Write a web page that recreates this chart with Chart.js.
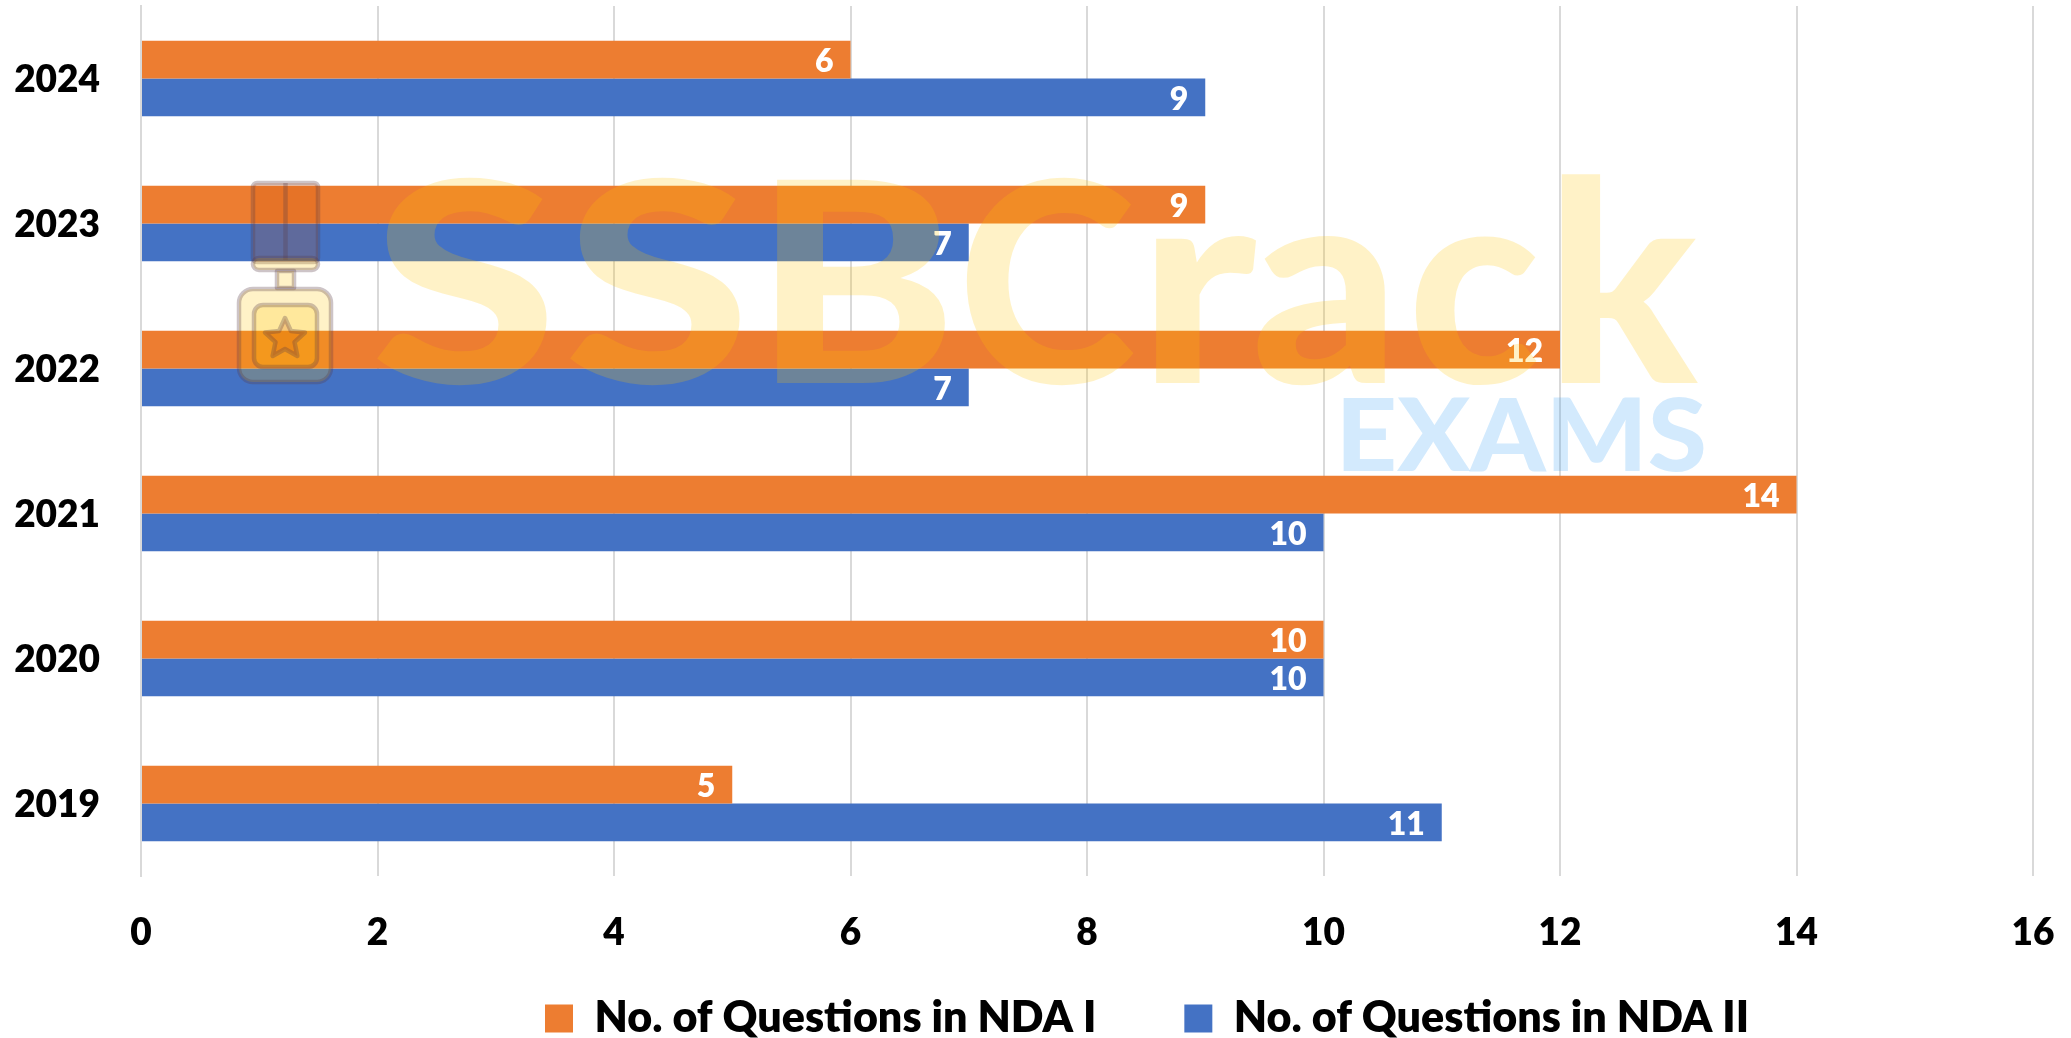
<!DOCTYPE html>
<html><head><meta charset="utf-8">
<style>html,body{margin:0;padding:0;background:#fff}#w{position:relative;width:2071px;height:1038px}canvas{display:block}</style>
<script src="https://cdn.jsdelivr.net/npm/chart.js@4"></script></head>
<body><div id="w"><canvas id="c" width="2071" height="1038"></canvas></div>
<script>
const categories=['2024','2023','2022','2021','2020','2019'];
const ndaOne=[6,9,12,14,10,5];
const ndaTwo=[9,7,7,10,10,11];
const seriesNames=['No. of Questions in NDA I','No. of Questions in NDA II'];
const FONT='Lato';
const valueLabels={id:'valueLabels',afterDatasetsDraw(ch){const x=ch.ctx;x.save();x.fillStyle='#fff';x.font='800 32px "'+FONT+'"';x.textAlign='right';x.textBaseline='middle';
 ch.data.datasets.forEach((d,i)=>ch.getDatasetMeta(i).data.forEach((b,j)=>x.fillText(d.data[j],b.x-17,b.y+2)));x.restore();}};
function rr(x,l,t,r,b,c){x.beginPath();x.roundRect(l,t,r-l,b-t,c);}
const wordLetters=[['S',376,551],['S',569,744],['B',773,945],['C',966,1135],['r',1153,1256],['a',1256,1387],['c',1412,1540],['k',1559,1702]];
const watermark={id:'watermark',afterDraw(ch){const x=ch.ctx;x.save();x.textBaseline='alphabetic';x.textAlign='left';
 function fit(t,l,r,base){const m=x.measureText(t);const s=(r-l)/(m.actualBoundingBoxRight+m.actualBoundingBoxLeft);x.save();x.translate(l,base);x.scale(s,1);x.fillText(t,m.actualBoundingBoxLeft,0);x.restore();}
 x.fillStyle='rgba(255,196,0,0.22)';x.font='900 280px "Lato"';wordLetters.forEach(w=>fit(w[0],w[1],w[2],383));
 x.fillStyle='rgba(33,150,243,0.2)';x.font='900 101px "Lato"';fit('EXAMS',1343,1704,471);
 const st='rgba(90,60,70,0.3)';x.strokeStyle=st;x.lineWidth=4.5;x.lineJoin='round';
 x.fillStyle='rgba(203,74,0,0.2)';rr(x,253,183,318,262,4);x.fill();x.stroke();
 x.beginPath();x.moveTo(285.5,183);x.lineTo(285.5,260);x.stroke();
 x.fillStyle='rgba(255,196,0,0.22)';rr(x,253,258,318,270,7);x.fill();x.stroke();
 rr(x,277,271,294,288,0);x.fill();x.stroke();
 rr(x,239,289,331,382,14);x.fill();x.stroke();
 rr(x,254,305,317,367,9);x.fill();x.stroke();
 x.beginPath();for(let i=0;i<10;i++){const a=-Math.PI/2+i*Math.PI/5,r=i%2?10:21;x[i?'lineTo':'moveTo'](285+r*Math.cos(a),339+r*Math.sin(a));}x.closePath();
 x.fillStyle='rgba(203,74,0,0.2)';x.fill();x.stroke();
 x.restore();}};
const LEGEND_PAD=88;
const legendPlace={id:'legendPlace',afterLayout(ch){const l=ch.legend;l.left=545-LEGEND_PAD;l.right=2071;l.top=1022-25-LEGEND_PAD;l.bottom=1038;}};
function noPad(s){s.paddingTop=s.paddingBottom=s.paddingLeft=s.paddingRight=0;}
new Chart(document.getElementById('c'),{type:'bar',plugins:[legendPlace,valueLabels,watermark],
 data:{labels:categories,datasets:[
  {label:seriesNames[0],data:ndaOne,backgroundColor:'#ED7D31',categoryPercentage:0.522,barPercentage:1},
  {label:seriesNames[1],data:ndaTwo,backgroundColor:'#4472C4',categoryPercentage:0.522,barPercentage:1}]},
 options:{indexAxis:'y',responsive:false,animation:false,
  layout:{autoPadding:false,padding:{left:0,right:38,top:6,bottom:0}},
  plugins:{tooltip:{enabled:false},legend:{position:'bottom',align:'start',maxHeight:50,labels:{color:'#000',font:{family:FONT,size:43,weight:'800'},boxWidth:28,boxHeight:28,padding:LEGEND_PAD}}},
  scales:{
   x:{min:0,max:16,afterFit(s){noPad(s);s.height=1038-876-s.chart.legend.height;},ticks:{stepSize:2,color:'#000',font:{family:FONT,size:37,weight:'800'},padding:35},grid:{color:'#D9D9D9',lineWidth:2,drawTicks:false},border:{display:false}},
   y:{afterFit(s){noPad(s);s.width=141;},ticks:{color:'#000',font:{family:FONT,size:37,weight:'800'},padding:41,labelOffset:2},grid:{display:false,drawTicks:false},border:{color:'#D9D9D9',width:2}}
  }}});
</script></body></html>
